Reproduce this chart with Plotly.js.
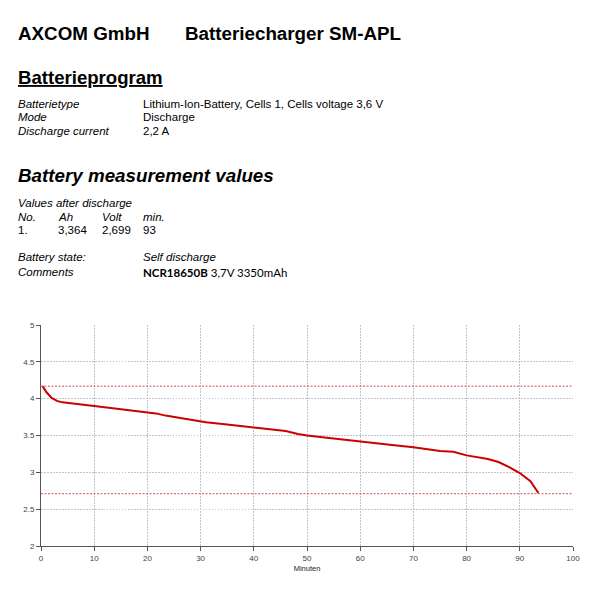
<!DOCTYPE html>
<html>
<head>
<meta charset="utf-8">
<script src="https://cdn.plot.ly/plotly-3.0.1.min.js"></script>
<style>
html,body{margin:0;padding:0;background:#fff;}
#chart{width:600px;height:600px;}
</style>
</head>
<body>
<div id="chart"></div>
<script>
// ---- data ----
const minutes = [0.3, 1, 2, 3, 4, 5.4, 8, 10, 13.5, 17, 20, 21.6, 23.4, 27, 30, 31, 35, 40, 42, 46, 48.3, 50, 55, 60, 64, 66, 70, 75, 77.5, 80, 84, 86, 88, 90, 92, 93.5];
const volts = [4.17, 4.09, 4.01, 3.97, 3.95, 3.94, 3.92, 3.90, 3.87, 3.84, 3.81, 3.80, 3.77, 3.73, 3.70, 3.68, 3.65, 3.61, 3.59, 3.56, 3.52, 3.50, 3.46, 3.415, 3.38, 3.37, 3.34, 3.29, 3.28, 3.23, 3.18, 3.14, 3.07, 2.99, 2.88, 2.72];
const limitLines = [4.17, 2.71];
const xTicks = [0, 10, 20, 30, 40, 50, 60, 70, 80, 90, 100];
const yTicks = [2, 2.5, 3, 3.5, 4, 4.5, 5];
const xTitle = 'Minuten';

const headerLeft = 'AXCOM GmbH';
const headerRight = 'Batteriecharger SM-APL';
const section1 = 'Batterieprogram';
const progLabels = ['Batterietype', 'Mode', 'Discharge current'];
const progValues = ['Lithium-Ion-Battery, Cells 1, Cells voltage 3,6 V', 'Discharge', '2,2 A'];
const section2 = 'Battery measurement values';
const valuesCaption = 'Values after discharge';
const tableHeader = ['No.', 'Ah', 'Volt', 'min.'];
const tableRow = ['1.', '3,364', '2,699', '93'];
const stateLabels = ['Battery state:', 'Comments'];
const stateValues = ['Self discharge', '<b>NCR18650B</b> 3,7V 3350mAh'];

// ---- layout geometry ----
const W = 600, H = 600;
const M = {l: 41, r: 27, t: 325, b: 54};
const pw = W - M.l - M.r, ph = H - M.t - M.b;
const px = x => (x - M.l) / pw;
const py = y => 1 - (y - M.t) / ph;

const FONT = 'Liberation Sans, Arial, sans-serif';
const ann = [];
function txt(text, x, y, size, extra) {
  ann.push(Object.assign({
    text: text, xref: 'paper', yref: 'paper', x: px(x), y: py(y),
    xanchor: 'left', yanchor: 'middle', showarrow: false, borderpad: 0,
    font: {family: FONT, size: size, color: '#000'}
  }, extra || {}));
}
txt('<b>' + headerLeft + '</b>', 17, 33, 18.8);
txt('<b>' + headerRight + '</b>', 184, 33, 18.8);
txt('<b><u>' + section1 + '</u></b>', 17, 77, 18.6);
progLabels.forEach((l, i) => {
  const y = [104, 117, 131][i];
  txt('<i>' + l + '</i>', 17, y, 11.5);
  txt(progValues[i], 142, y, 11.5);
});
txt('<b><i>' + section2 + '</i></b>', 17, 175, 18.8);
txt('<i>' + valuesCaption + '</i>', 17, 203, 11.5);
const colX = [17, 57, 101, 142];
tableHeader.forEach((h, i) => txt('<i>' + h + '</i>', colX[i], 217, 11.5));
tableRow.forEach((v, i) => txt(v, colX[i], 230, 11.5));
txt('<i>' + stateLabels[0] + '</i>', 17, 257, 11.5);
txt('<i>' + stateValues[0] + '</i>', 142, 257, 11.5);
txt('<i>' + stateLabels[1] + '</i>', 17, 272, 11.5);
txt(stateValues[1], 142, 272, 11.5, {font: {family: 'Lato, Open Sans, sans-serif', size: 11.5, color: '#000'}});

const shapes = limitLines.map(v => ({
  type: 'line', xref: 'x', yref: 'y', x0: 0, x1: 100, y0: v, y1: v,
  line: {color: '#d05050', width: 1, dash: '2px,1.5px'}
}));

const trace = {
  x: minutes, y: volts, type: 'scatter', mode: 'lines',
  line: {color: '#cc0000', width: 2}, hoverinfo: 'x+y'
};

const axisCommon = {
  showgrid: true, gridcolor: '#c4c4c4', griddash: '1.5px,1.5px', gridwidth: 1,
  showline: true, linecolor: '#555', linewidth: 1,
  ticks: 'outside', ticklen: 4, tickcolor: '#555',
  tickfont: {family: FONT, size: 8, color: '#444'},
  zeroline: false, fixedrange: true
};

const layout = {
  width: W, height: H,
  margin: M,
  paper_bgcolor: '#fff', plot_bgcolor: '#fff',
  showlegend: false,
  xaxis: Object.assign({}, axisCommon, {
    range: [0, 100], tickmode: 'array', tickvals: xTicks,
    title: {text: xTitle, font: {family: FONT, size: 7.5, color: '#222'}, standoff: 4}
  }),
  yaxis: Object.assign({}, axisCommon, {
    range: [2, 5], tickmode: 'array', tickvals: yTicks, ticktext: yTicks.map(String)
  }),
  shapes: shapes,
  annotations: ann
};

Plotly.newPlot('chart', [trace], layout, {displayModeBar: false, staticPlot: true});
</script>
</body>
</html>
